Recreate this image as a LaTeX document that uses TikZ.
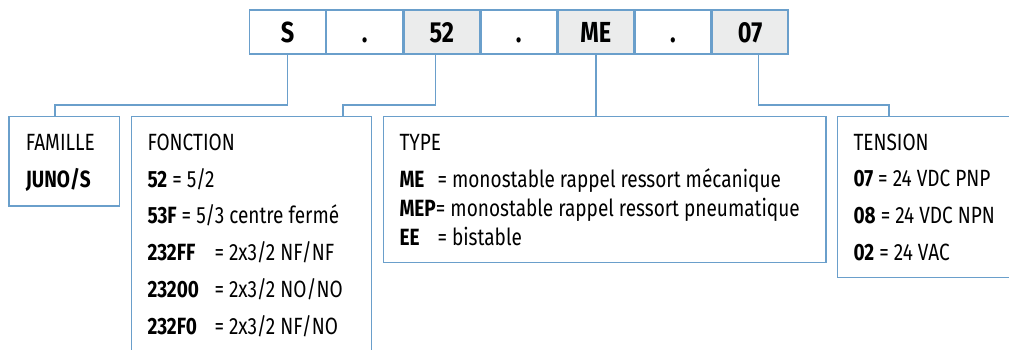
\documentclass[tikz,border=0pt]{standalone}
\usepackage{fontspec}
\setmainfont{Fira Sans}[FakeStretch=0.81]
\usetikzlibrary{positioning}

\definecolor{linkblue}{HTML}{6A9FCB}
\definecolor{cellgray}{HTML}{EBECEC}

\tikzset{
  cell/.style={draw=linkblue, line width=1.4pt, minimum width=75.7, minimum height=44,
    inner sep=0pt, text height=21pt, text depth=0pt,
    font=\fontsize{29}{30}\selectfont\bfseries},
  infobox/.style={draw=linkblue, line width=1.4pt, anchor=north west, inner sep=0pt},
  txt/.style={anchor=base west, inner sep=0pt, font=\fontsize{23.5}{25}\selectfont},
  link/.style={draw=linkblue, line width=1.4pt}
}

\begin{document}
\begin{tikzpicture}[x=1pt,y=-1pt]
  \useasboundingbox (0,0) rectangle (1009,349);
  \clip (0,0) rectangle (1009,349);

  % code
  \node[cell] (c1) at (287.5,32) {S};
  \node[cell, right=0pt of c1] (c2) {.};
  \node[cell, fill=cellgray, right=0pt of c2] (c3) {52};
  \node[cell, right=0pt of c3] (c4) {.};
  \node[cell, fill=cellgray, right=0pt of c4] (c5) {ME};
  \node[cell, right=0pt of c5] (c6) {.};
  \node[cell, fill=cellgray, right=0pt of c6] (c7) {07};

  % boxes
  \node[infobox, minimum width=110.7, minimum height=89.6] (famille) at (8.3,115.7) {};
  \node[infobox, minimum width=240.3, minimum height=260] (fonction) at (130.7,115.7) {};
  \node[infobox, minimum width=442.8, minimum height=146] (type) at (382.5,116) {};
  \node[infobox, minimum width=200, minimum height=160.7] (tension) at (836.7,116) {};

  % links
  \draw[link] (c1.south) -- (c1.south |- 0,105) -| ([xshift=-9.3]famille.north);
  \draw[link] ([xshift=-6.2]c3.south) -- ([xshift=-6.2]c3.south |- 0,105) -| ([xshift=-29.3]fonction.north east);
  \draw[link] (c5.south) -- (c5.south |- type.north);
  \draw[link] ([xshift=8.6]c7.south) -- ([xshift=8.6]c7.south |- 0,105) -| ([xshift=52.3]tension.north west);

  % famille
  \node[txt] (famtitle) at (25.7,150) {FAMILLE};
  \node[txt] (famval) at (25.7,187.3) {\bfseries JUNO/S};

  % fonction
  \node[txt] (fontitle) at (147.3,150) {FONCTION};
  \node[txt] (fon1) at (147.3,187.3) {\textbf{52} = 5/2};
  \node[txt] (fon2) at (147.3,223.3) {\textbf{53F} = 5/3 centre fermé};
  \node[txt] (fon3) at (147.3,260.7) {\makebox[67pt][l]{\textbf{232FF}}= 2x3/2 NF/NF};
  \node[txt] (fon4) at (147.3,297.3) {\makebox[67pt][l]{\textbf{23200}}= 2x3/2 NO/NO};
  \node[txt] (fon5) at (147.3,334) {\makebox[67pt][l]{\textbf{232F0}}= 2x3/2 NF/NO};

  % type
  \node[txt] (typtitle) at (399.3,150) {TYPE};
  \node[txt] (typ1) at (399.3,187.3) {\makebox[38pt][l]{\textbf{ME}}= monostable rappel ressort mécanique};
  \node[txt] (typ2) at (399.3,216) {\textbf{MEP}= monostable rappel ressort pneumatique};
  \node[txt] (typ3) at (399.3,245) {\makebox[38pt][l]{\textbf{EE}}= bistable};

  % tension
  \node[txt] (tentitle) at (853.3,150) {TENSION};
  \node[txt] (ten1) at (853.3,186.7) {\textbf{07} = 24 VDC PNP};
  \node[txt] (ten2) at (853.3,223.3) {\textbf{08} = 24 VDC NPN};
  \node[txt] (ten3) at (853.3,260) {\textbf{02} = 24 VAC};
\end{tikzpicture}
\end{document}
